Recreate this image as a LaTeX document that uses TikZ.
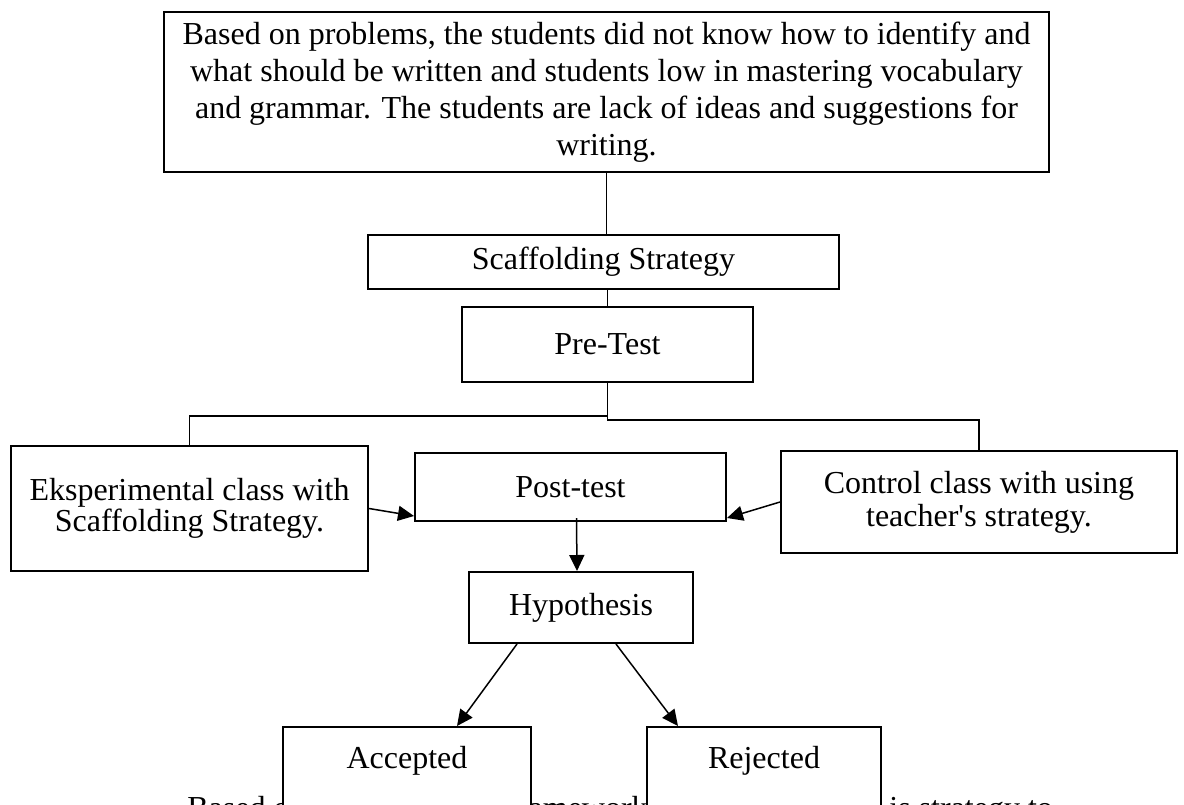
\documentclass[tikz,border=0pt]{standalone}
\usepackage{fontspec}
\setmainfont{Liberation Serif}
\usetikzlibrary{arrows.meta, positioning}
\tikzset{
  box/.style={draw, line width=1pt, fill=white, align=center, inner sep=0pt,
    font=\fontsize{16}{18.5}\selectfont},
  arr/.style={-{Triangle[length=8pt,width=7.5pt]}, line width=0.75pt},
  branch/.style={line width=0.6pt},
}
\begin{document}
\begin{tikzpicture}[x=0.5pt, y=-0.5pt]
  \useasboundingbox (0,0) rectangle (1184,804);
  \clip (0,0) rectangle (1184,804);
  % text line running under the last two boxes
  \node[anchor=base west, inner sep=0pt, font=\fontsize{16}{18}\selectfont] (para) at (187,818)
    {Based on the conceptual framework above, employers is strategy to};

  \node[box, minimum width=442.5pt, minimum height=80pt] (prob) at (606.5,92)
    {Based on problems, the students did not know how to identify and\\
     what should be written and students low in mastering vocabulary\\
     and grammar. The students are lack of ideas and suggestions for\\
     writing.};
  \node[box, minimum width=235.5pt, minimum height=27pt] (strat) at (603.5,262) {Scaffolding Strategy};
  \node[box, minimum width=145.5pt, minimum height=37.5pt] (pre) at (607.5,344.5) {Pre-Test};
  \node[box, minimum width=178.5pt, minimum height=62.5pt, font=\fontsize{16}{15.8}\selectfont]
    (eksp) at (189.5,508.5) {Eksperimental class with\\ Scaffolding Strategy.};
  \node[box, minimum width=155.5pt, minimum height=34pt] (post) at (570.5,487) {Post-test};
  \node[box, minimum width=198pt, minimum height=51pt, font=\fontsize{16}{16.5}\selectfont]
    (ctrl) at (979,502) {Control class with using\\ teacher\textquotesingle s strategy.};
  \node[box, minimum width=112pt, minimum height=35.5pt] (hyp) at (581,607.5) {Hypothesis};
  \node[box, anchor=north, minimum width=124pt, text height=20.5pt, text depth=30pt]
    (acc) at (407,726) {Accepted};
  \node[box, anchor=north, minimum width=117pt, text height=20.5pt, text depth=30pt]
    (rej) at (764,726) {Rejected};

  % connectors
  \draw[line width=0.75pt] (prob.south) -- (prob.south |- strat.north);
  \draw[line width=0.75pt] (strat.south -| pre.north) -- (pre.north);
  \draw[branch] (pre.south) -- (pre.south |- 0,416) -| (eksp.north);
  \draw[branch] (pre.south) -- (pre.south |- 0,420) -| (ctrl.north);
  \draw[arr] (eksp.east) -- ([yshift=3pt]post.south west);
  \draw[arr] (ctrl.west) -- ([yshift=2pt]post.south east);
  \draw[arr] ([xshift=3pt,yshift=2pt]post.south) -- ([xshift=-2pt]hyp.north);
  \draw[arr] ([xshift=24.5pt]hyp.south west) -- ([xshift=25pt]acc.north);
  \draw[arr] ([xshift=-39pt]hyp.south east) -- ([xshift=-43pt]rej.north);
\end{tikzpicture}
\end{document}
